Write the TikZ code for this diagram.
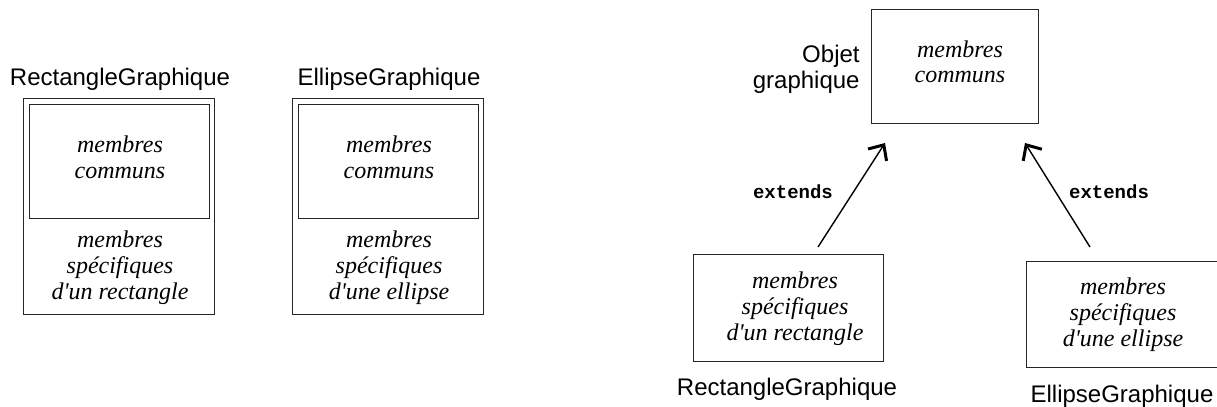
\documentclass[tikz,border=0pt]{standalone}
\usepackage{fontspec}
\setsansfont{Liberation Sans}
\setmonofont{Liberation Mono}
\newfontfamily\romain{Liberation Serif}
\usetikzlibrary{arrows.meta}

\begin{document}
\begin{tikzpicture}[
        x=0.5pt,y=-0.5pt,
        boite/.style={draw=black!85,line width=0.5pt,inner sep=0pt},
        membres/.style={font={\romain\itshape\fontsize{12}{13}\selectfont},align=center,anchor=base,inner sep=0pt},
        classe/.style={font={\sffamily\fontsize{12}{12.8}\selectfont},anchor=base,inner sep=0pt},
        motcle/.style={font={\ttfamily\bfseries\fontsize{9.5}{11}\selectfont},anchor=base,inner sep=0pt},
        herite/.style={line width=0.7pt,-{Straight Barb[length=6pt,width=11pt,line width=1.5pt]}},
      ]
      \useasboundingbox (0,0) rectangle (1217,407);
      % Left: the two classes written out in full
      \foreach \nom/\cx/\spec in {RectangleGraphique/119/d'un rectangle,EllipseGraphique/388/d'une ellipse}{
        \node[boite,minimum width=95.5pt,minimum height=108pt] (ext\nom) at (\cx,206) {};
        \node[boite,minimum width=90pt,minimum height=57pt] (int\nom) at (\cx,161.5) {};
        \node[classe] (titre\nom) at (\cx+1,85) {\nom};
        \node[membres] (communs\nom) at (\cx+1,178) {membres\\communs};
        \node[membres] (spec\nom) at (\cx+1,299) {membres\\spécifiques\\\spec};
      }
      % Right: the common superclass
      \node[boite,minimum width=83.5pt,minimum height=57pt] (objet) at (954.5,66) {};
      \node[membres] (objettxt) at (960,83) {membres\\communs};
      \node[classe,align=right,anchor=base east] (objetnom) at (860,88) {Objet\\graphique};
      % Right: the subclasses
      \node[boite,minimum width=95pt,minimum height=53.5pt] (rect) at (788,307.5) {};
      \node[membres] (recttxt) at (795,340) {membres\\spécifiques\\d'un rectangle};
      \node[classe] (rectnom) at (787,395) {RectangleGraphique};
      \node[boite,minimum width=100pt,minimum height=53pt] (ellipse) at (1126,314) {};
      \node[membres] (ellipsetxt) at (1123,346) {membres\\spécifiques\\d'une ellipse};
      \node[classe] (ellipsenom) at (1122,402) {EllipseGraphique};
      % Inheritance arrows
      \coordinate (rectbas) at (818,247);
      \coordinate (rectpointe) at (885,143);
      \coordinate (ellipsebas) at (1090,247);
      \coordinate (ellipsepointe) at (1025,143);
      \draw[herite] (rectbas) -- (rectpointe);
      \draw[herite] (ellipsebas) -- (ellipsepointe);
      \node[motcle] (extrect) at (793,198) {extends};
      \node[motcle] (extellipse) at (1109,198) {extends};
    \end{tikzpicture}
\end{document}
